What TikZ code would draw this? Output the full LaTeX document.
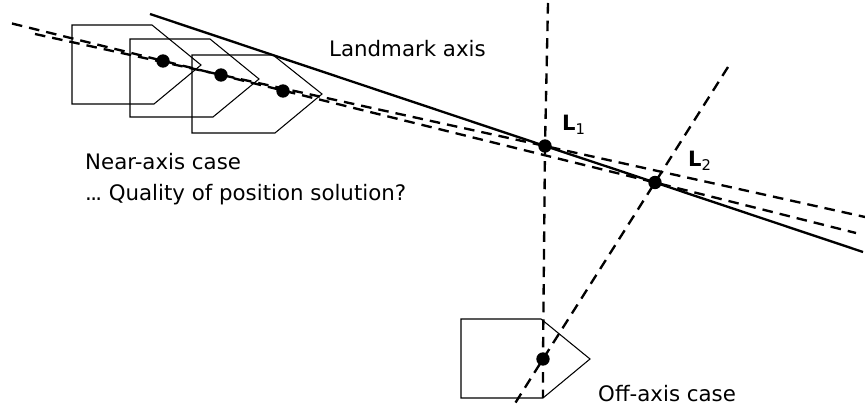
\documentclass[tikz,border=0pt]{standalone}
\usepackage{fontspec}
\setmainfont{DejaVu Sans}
\usetikzlibrary{positioning}

\begin{document}
\begin{tikzpicture}[x=0.03cm, y=-0.03cm,
  hull/.style={draw, line width=0.9pt, line join=miter},
  axisline/.style={draw, line width=2pt},
  bearing/.style={draw, line width=2pt, dash pattern=on 9pt off 6pt},
  fix/.style={circle, fill=black, inner sep=0pt, minimum size=0.4cm},
  lbl/.style={font=\fontsize{18.2}{20}\selectfont, inner sep=0pt, anchor=base west},
  lmk/.style={font=\fontsize{18}{20}\selectfont, inner sep=0pt, anchor=base west}]
\useasboundingbox (0, 0) rectangle (865, 405);
% vehicle outlines
\draw[hull] (72, 25) -- (152, 25) -- (201, 65) -- (154, 104) -- (72, 104) -- cycle;
\draw[hull] (130, 39) -- (210, 39) -- (259, 79) -- (213, 117) -- (130, 117) -- cycle;
\draw[hull] (192, 55) -- (273, 55) -- (322, 94) -- (275, 133) -- (192, 133) -- cycle;
\draw[hull] (461, 319) -- (541, 319) -- (590, 359) -- (543, 398) -- (461, 398) -- cycle;
% landmarks and vehicle positions
\node[fix] (lone) at (545, 146) {};
\node[fix] (ltwo) at (655, 182.5) {};
\node[fix] (veha) at (163, 61) {};
\node[fix] (vehb) at (221, 75) {};
\node[fix] (vehc) at (283, 91) {};
\node[fix] (vehd) at (543, 359) {};
% free ends
\coordinate (axstart) at (150, 14);
\coordinate (axend) at (863, 252);
\coordinate (nearastart) at (35, 34);
\coordinate (nearaend) at (865, 217);
\coordinate (nearbstart) at (12, 23.5);
\coordinate (nearbend) at (856, 233);
\coordinate (vertstart) at (548, 3);
\coordinate (vertend) at (543, 398);
\coordinate (slantstart) at (728, 67);
\coordinate (slantend) at (514, 405);
% lines
\draw[axisline] (axstart) -- (lone.center) -- (ltwo.center) -- (axend);
\draw[bearing] (nearastart) -- (lone.center) -- (nearaend);
\draw[bearing] (nearbstart) -- (ltwo.center) -- (nearbend);
\draw[bearing] (vertstart) -- (lone.center) -- (vehd.center) -- (vertend);
\draw[bearing] (slantstart) -- (ltwo.center) -- (vehd.center) -- (slantend);
% labels
\node[lbl] (axlabel) at (329, 56.5) {Landmark axis};
\node[lbl] (nearlabel) at (85, 170) {Near-axis case};
\node[lbl] (quallabel) at (85, 201) {.\kern-1.5pt.\kern-1.5pt.\ Quality of position solution?};
\node[lbl] (offlabel) at (598, 401.5) {Off-axis case};
\node[lmk] (lonelabel) at (562, 131) {\textbf{L}\textsubscript{1}};
\node[lmk] (ltwolabel) at (688, 167) {\textbf{L}\textsubscript{2}};
\end{tikzpicture}
\end{document}
